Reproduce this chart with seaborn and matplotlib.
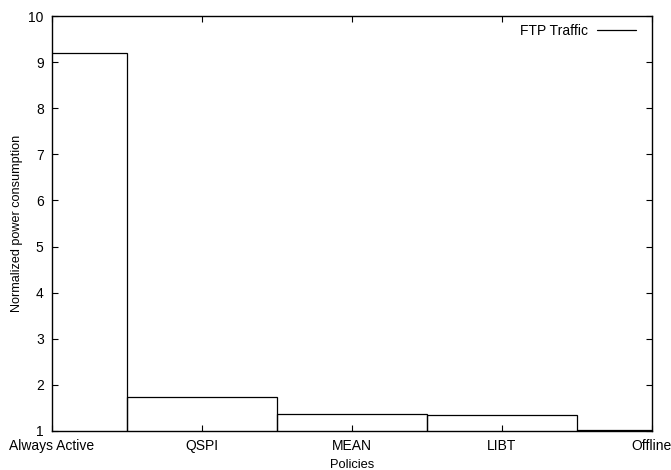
import matplotlib
matplotlib.use('Agg')
import matplotlib.pyplot as plt
import seaborn as sns
import pandas as pd
from matplotlib.lines import Line2D

policies = ['Always Active', 'QSPI', 'MEAN', 'LIBT', 'Offline']
power = [9.2, 1.74, 1.36, 1.34, 1.03]
y_ticks = [1, 2, 3, 4, 5, 6, 7, 8, 9, 10]

sns.set_style('white')
plt.rcParams['font.family'] = ['Liberation Sans', 'DejaVu Sans']
plt.rcParams['text.color'] = 'black'
plt.rcParams['axes.labelcolor'] = 'black'

df = pd.DataFrame({'policy': policies, 'power': power})

fig = plt.figure(figsize=(6.71, 4.70), dpi=100)
ax = fig.add_axes([52 / 671, 39 / 470, 600 / 671, 415 / 470])

sns.barplot(data=df, x='policy', y='power', width=1, fill=False,
            color='black', linewidth=0.9, errorbar=None, ax=ax)
for p in ax.patches:
    p.set_edgecolor('black')

ax.set_xlim(0, 4)
ax.set_ylim(1, 10)
ax.set_yticks(y_ticks)
ax.set_xticks(range(len(policies)))
ax.set_xticklabels(policies)
ax.set_xlabel('Policies', fontsize=9.3, labelpad=4.2)
ax.set_ylabel('Normalized power consumption', fontsize=9.1, labelpad=4)

for s in ax.spines.values():
    s.set_color('black')
    s.set_linewidth(1.0)
ax.tick_params(direction='in', length=4, width=0.8, labelsize=10,
               top=True, right=True, bottom=True, left=True,
               colors='black', labelcolor='black')
ax.tick_params(axis='x', pad=6)
ax.tick_params(axis='y', pad=6)

handle = Line2D([0], [0], color='black', linewidth=0.9)
ax.legend([handle], ['FTP Traffic'], loc='upper right', frameon=False,
          markerfirst=False, fontsize=10, handlelength=2.8,
          handletextpad=0.65, borderpad=0, borderaxespad=0,
          bbox_to_anchor=(636 / 671, (470 - 24) / 470),
          bbox_transform=fig.transFigure)

fig.savefig('out.png', dpi=100)
